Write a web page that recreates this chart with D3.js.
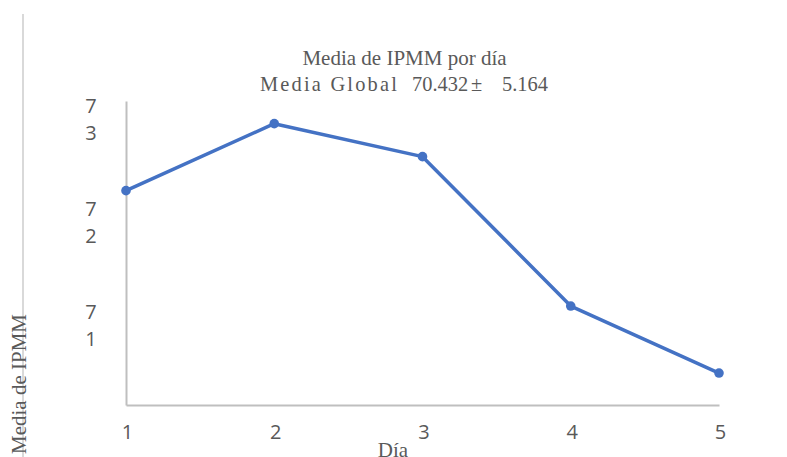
<!DOCTYPE html>
<html><head><meta charset="utf-8">
<script src="https://cdn.jsdelivr.net/npm/d3@7"></script>
<style>html,body{margin:0;padding:0;background:#fff;}svg{display:block;}</style>
</head><body>
<svg id="chart" width="787" height="457"></svg>
<script>
const days = [1, 2, 3, 4, 5];
const values = [72.31, 72.96, 72.64, 71.19, 70.54];
const yTicks = [71, 72, 73];
const title = "Media de IPMM por día";
const subtitleA = "Media Global";
const subtitleB = "70.432";
const subtitleC = "±";
const subtitleD = "5.164";
const xTitle = "Día";
const yTitle = "Media de IPMM";

const svg = d3.select("#chart");
const W = 787, H = 457;
const plot = {left: 126, right: 719, top: 101, bottom: 405};

const x = d3.scaleLinear().domain([1, 5]).range([plot.left, plot.right]);
const y = d3.scaleLinear().domain([70.23, 73.18]).range([plot.bottom, plot.top]);

// outer frame left border
svg.append("line").attr("x1", 23).attr("x2", 23).attr("y1", 14).attr("y2", H)
  .attr("stroke", "#d9d9d9").attr("stroke-width", 2);

const grey = "#595959";
const sans = "'Open Sans', 'Liberation Sans', sans-serif";
const serif = "'Liberation Serif', 'Times New Roman', serif";

// y axis
const yAxis = d3.axisLeft(y).tickValues(yTicks).tickSize(0).tickPadding(0);
const gy = svg.append("g").attr("transform", `translate(${plot.left},0)`).call(yAxis);
gy.select(".domain").attr("stroke", "#bfbfbf").attr("stroke-width", 2);
gy.selectAll(".tick text").each(function(d) {
  const t = d3.select(this);
  const s = String(d);
  t.text(null).attr("x", 0).attr("dy", null)
    .attr("font-family", sans).attr("font-size", 20).attr("fill", grey)
    .attr("text-anchor", "middle");
  s.split("").forEach((ch, i) => {
    t.append("tspan").attr("x", -35).attr("dy", i === 0 ? -7 : 26.5).text(ch);
  });
});

// x axis
const xAxis = d3.axisBottom(x).tickValues(days).tickSize(0).tickPadding(0).tickFormat(d3.format("d"));
const gx = svg.append("g").attr("transform", `translate(0,${plot.bottom})`).call(xAxis);
gx.select(".domain").attr("stroke", "#bfbfbf").attr("stroke-width", 2);
gx.selectAll(".tick text").attr("font-family", sans).attr("font-size", 20)
  .attr("fill", grey).attr("y", 34).attr("dy", null).attr("dx", 1);

// line
const line = d3.line().x((d, i) => x(days[i])).y(d => y(d));
svg.append("path").datum(values).attr("d", line).attr("fill", "none")
  .attr("stroke", "#4472C4").attr("stroke-width", 3.5).attr("stroke-linejoin", "round");
svg.selectAll("circle.pt").data(values).join("circle").attr("class", "pt")
  .attr("cx", (d, i) => x(days[i])).attr("cy", d => y(d)).attr("r", 4.8)
  .attr("fill", "#4472C4");

// titles
svg.append("text").attr("x", 404.5).attr("y", 65).attr("text-anchor", "middle")
  .attr("font-family", serif).attr("font-size", 21).attr("fill", grey).text(title);
const sub = svg.append("text").attr("x", 260).attr("y", 91)
  .attr("font-family", serif).attr("font-size", 20.4).attr("fill", grey);
sub.append("tspan").attr("letter-spacing", 2.2).text(subtitleA);
sub.append("tspan").attr("x", 412).text(subtitleB);
sub.append("tspan").attr("dx", 3).text(subtitleC);
sub.append("tspan").attr("x", 502).text(subtitleD);

svg.append("text").attr("x", 393).attr("y", 457).attr("text-anchor", "middle")
  .attr("font-family", serif).attr("font-size", 21).attr("fill", grey).text(xTitle);
svg.append("text").attr("transform", "translate(26,384) rotate(-90)")
  .attr("text-anchor", "middle")
  .attr("font-family", serif).attr("font-size", 21).attr("fill", grey).text(yTitle);
</script>
</body></html>
